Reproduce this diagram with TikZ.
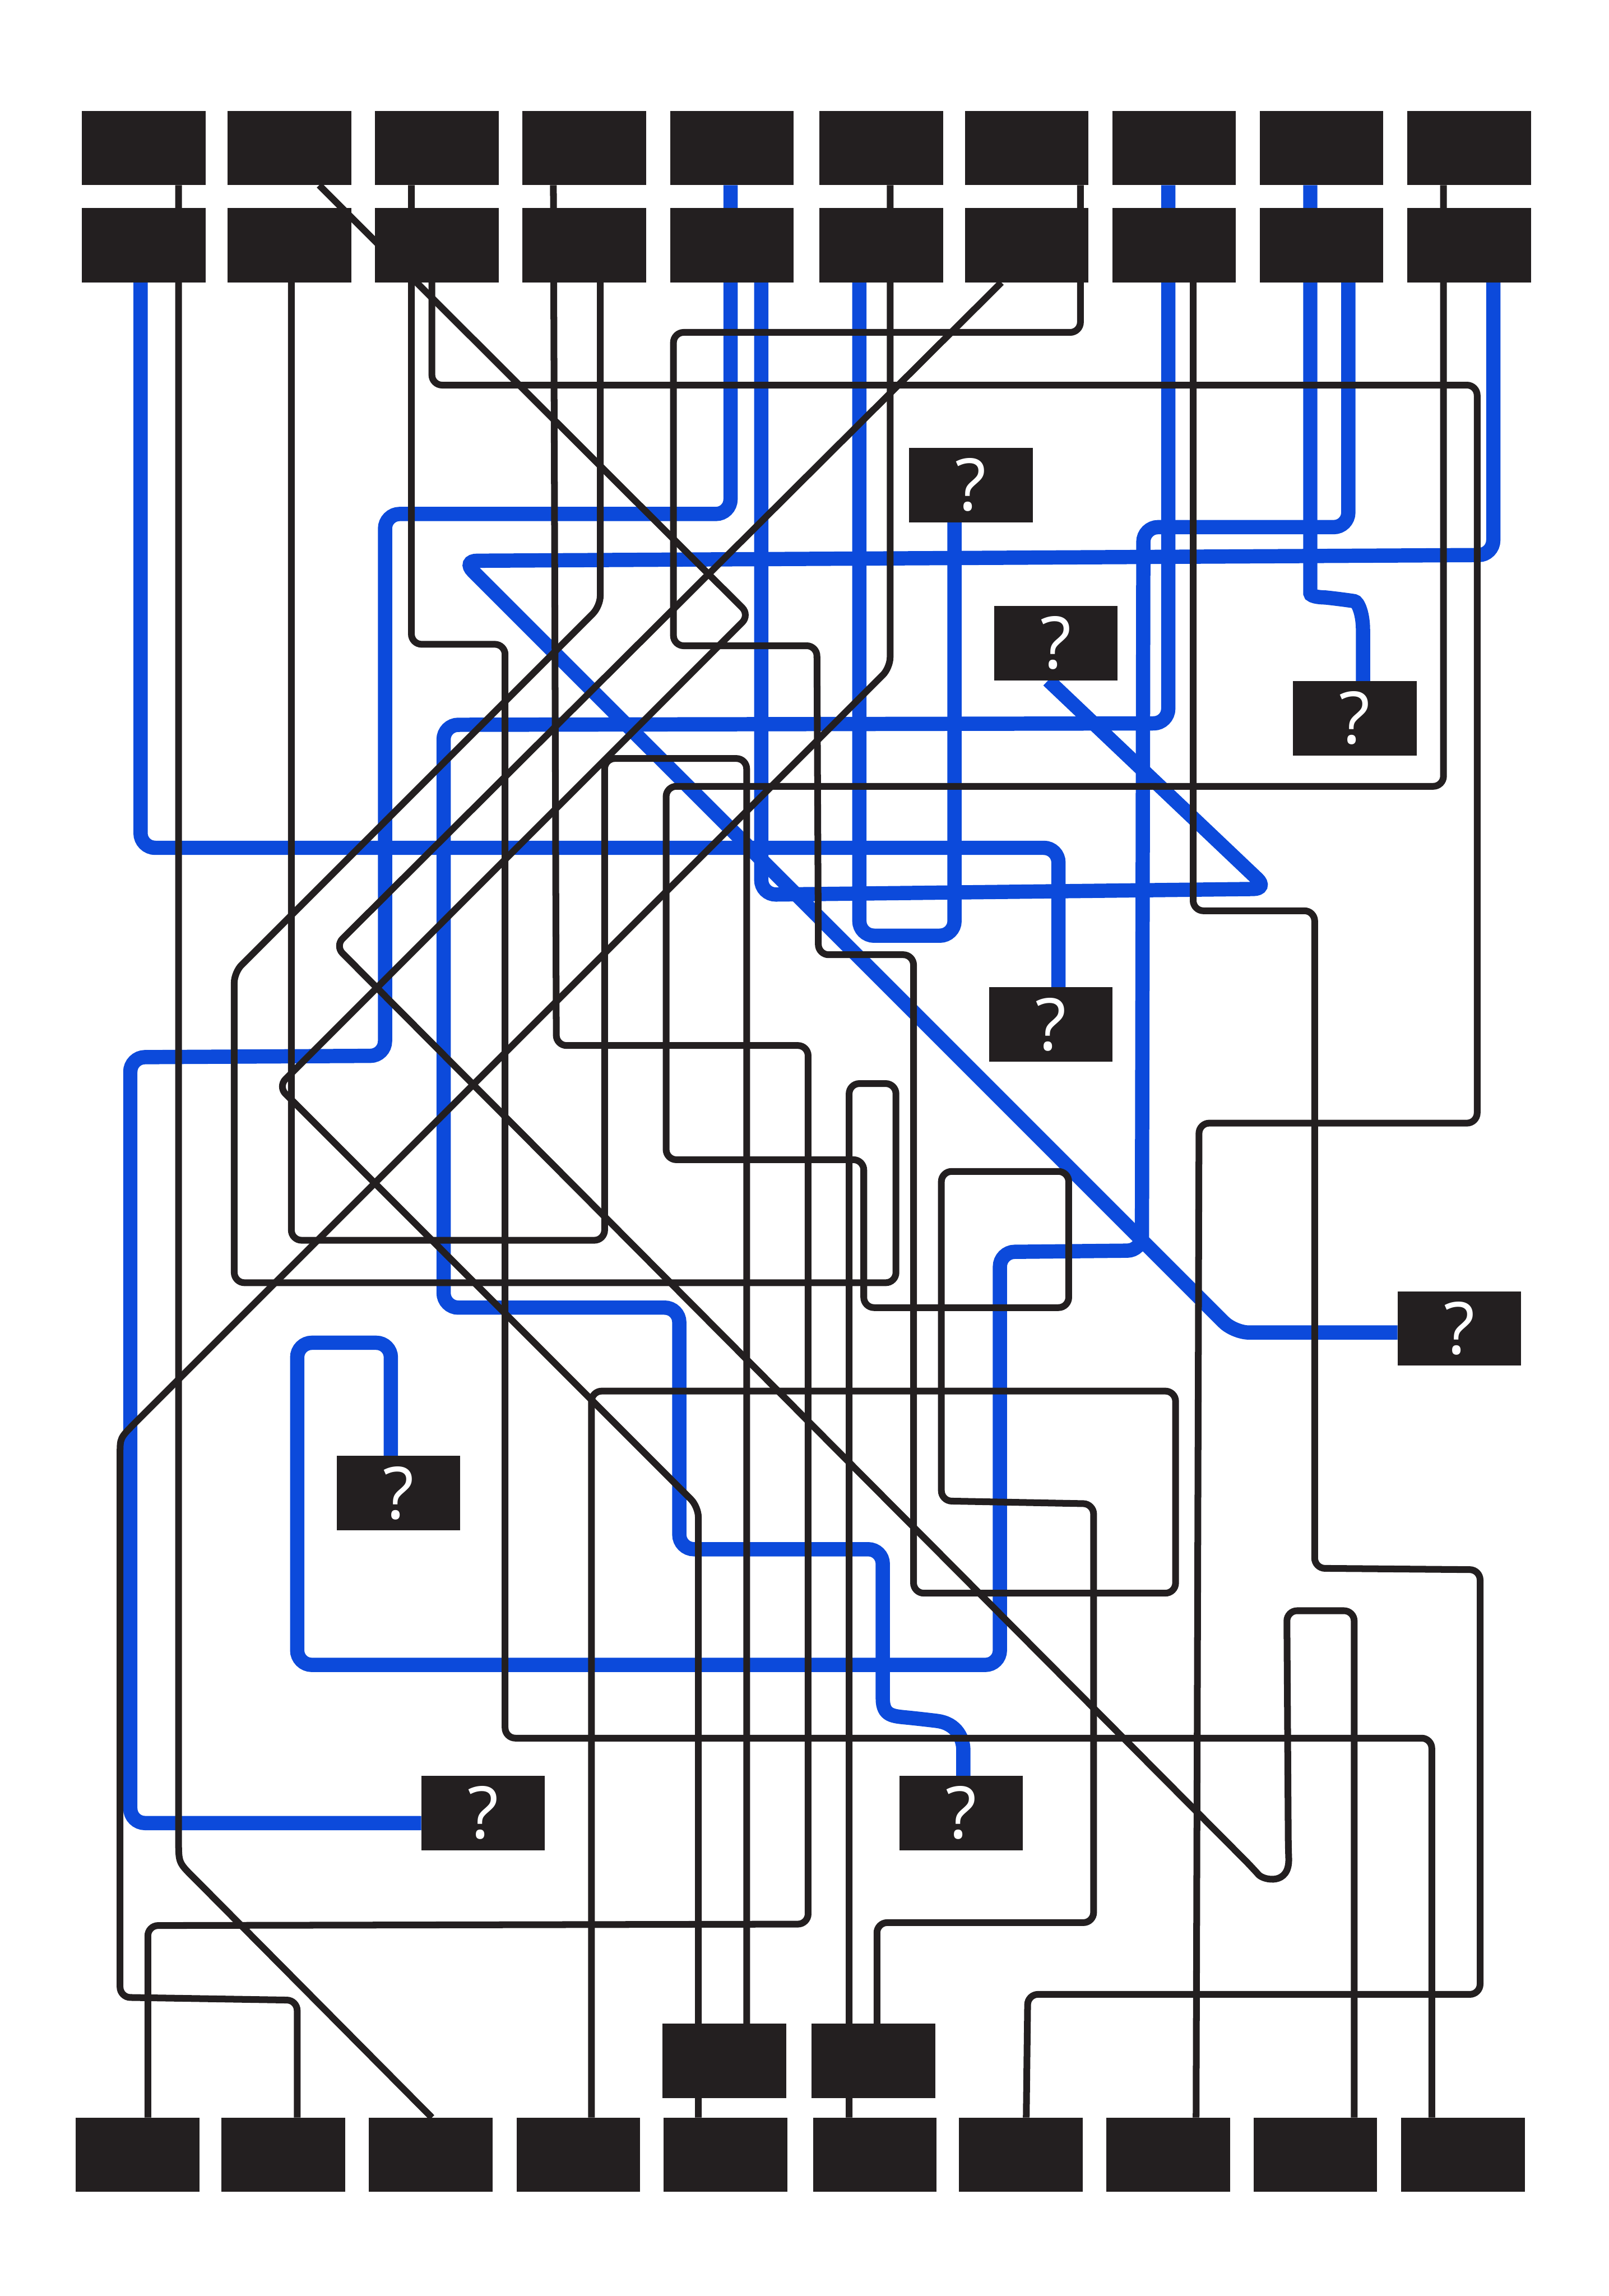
\documentclass[tikz,border=0pt]{standalone}
\usepackage{fontspec}
\newfontfamily\qfont{Open Sans}
\usetikzlibrary{backgrounds}
\definecolor{boxc}{HTML}{231F20}
\definecolor{bluec}{HTML}{0C4ADB}
\begin{document}
\begin{tikzpicture}[x=0.02cm,y=-0.02cm,
  box/.style={fill=boxc, draw=none, minimum width=16.9mm, minimum height=10.16mm, inner sep=0pt, outer sep=0pt},
  qbox/.style={box, text=white, font=\qfont\fontsize{28}{28}\selectfont},
  blk/.style={draw=boxc, line width=0.92mm, rounded corners=1.4mm},
  blu/.style={draw=bluec, line width=1.95mm, rounded corners=2mm}]
\useasboundingbox (0,0) rectangle (1099,1568);
% top rows
\foreach \i/\x in {1/98.2,2/197.8,3/298.5,4/399,5/500,6/602,7/701.3,8/802,9/902.7,10/1003.5}{
  \node[box] (t\i) at (\x,101.1) {};
  \node[box] (s\i) at (\x,167.5) {};
}
% bottom row
\foreach \i/\x in {1/94,2/193.5,3/294.3,4/395,5/495.5,6/597.6,7/697.3,8/798,9/898.5,10/999.3}{
  \node[box] (b\i) at (\x,1471.5) {};
}
\node[box] (m1) at (494.7,1407.5) {};
\node[box] (m2) at (596.6,1407.5) {};
% question boxes
\node[qbox] (q1) at (663.2,331.2) {?};
\node[qbox] (q2) at (721.2,439.2) {?};
\node[qbox] (q3) at (925.4,490.5) {?};
\node[qbox] (q4) at (717.8,699.7) {?};
\node[qbox] (q5) at (996.8,907.3) {?};
\node[qbox] (q6) at (272.2,1019.7) {?};
\node[qbox] (q7) at (330,1238.1) {?};
\node[qbox] (q8) at (656.5,1238.1) {?};

\begin{pgfonlayer}{background}
\fill[white] (0,0) rectangle (1099,1568);
% blue connectors
\draw[blu] (s1.south -| 96,0) -- (96,579) -- (723,579) -- (q4.north -| 723,0);
\draw[blu] (t5.south -| 499,0) -- (499,351) -- (263,351) -- (263,721) -- (89,722) -- (89,1245) -- (q7.west |- 0,1245);
\draw[blu] (s5.south -| 520,0) -- (520,611) -- (866,607) -- (q2.south -| 716,0);
\draw[blu] (s6.south -| 587,0) -- (587,639) -- (652,639) -- (q1.south -| 652,0);
\draw[blu] (t8.south -| 798,0) -- (798,494) -- (303,495) -- (303,893) -- (464,893) -- (464,1058) -- (603,1058) -- (603,1150) .. controls (603,1172) and (610,1172) .. (630,1174) .. controls (654,1177) and (658,1188) .. (658,1205) -- (q8.north -| 658,0);
\draw[blu] (t9.south -| 895,0) -- (895,395) .. controls (895,408) and (905,408) .. (915,409) .. controls (928,411) and (931,420) .. (931,440) -- (q3.north -| 931,0);
\draw[blu] (s9.south -| 921,0) -- (921,360) -- (781,360) -- (780,854) -- (683,855) -- (683,1137) -- (203,1137) -- (203,917) -- (267,917) -- (q6.north -| 267,0);
\draw[blu] (s10.south -| 1020,0) -- (1020,379) -- (316,383) -- (843,910) -- (q5.west |- 0,910);
% black connectors
\draw[blk] (t1.south -| 122,0) -- (122,1250) .. controls (122,1272) .. (137,1287) -- (b3.north -| 295,0);
\draw[blk] (t2.south -| 218,0) -- (512,420) -- (190,742) -- (477,1029) -- (b5.north -| 477,0);
\draw[blk] (s2.south -| 199,0) -- (199,847) -- (413,847) -- (413,518) -- (510,518) -- (m1.north -| 510,0);
\draw[blk] (t3.south -| 281,0) -- (281,440) -- (345,440) -- (345,1187) -- (978,1187) -- (b10.north -| 978,0);
\draw[blk] (s3.south -| 295,0) -- (295,263) -- (1009,263) -- (1009,767) -- (819,767) -- (b8.north -| 817,0);
\draw[blk] (t4.south -| 378,0) -- (380,714) -- (552,714) -- (552,1314) -- (101,1315) -- (b1.north -| 101,0);
\draw[blk] (s4.south -| 410,0) -- (410,414) -- (160,664) -- (160,876) -- (612,876) -- (612,740) -- (580,740) -- (b6.north -| 580,0);
\draw[blk] (t10.south -| 986,0) -- (986,537) -- (455,537) -- (455,792) -- (590,792) -- (590,893) -- (730,893) -- (730,800) -- (643,800) -- (643,1025) -- (747,1027) -- (747,1313) -- (599,1313) -- (m2.north -| 599,0);
\draw[blk] (t6.south -| 608,0) -- (608,456) -- (97,967) .. controls (82,982) .. (82,1000) -- (82,1364) -- (203,1366) -- (b2.north -| 203,0);
\draw[blk] (t7.south -| 738,0) -- (738,227) -- (460,227) -- (460,441) -- (558,441) -- (559,652) -- (624,652) -- (624,1088) -- (803,1088) -- (803,950) -- (404,950) -- (b4.north -| 404,0);
\draw[blk] (s8.south -| 815,0) -- (815,622) -- (898,622) -- (898,1071) -- (1011,1072) -- (1011,1362) -- (702,1362) -- (b7.north -| 701,0);
\draw[blk] (s7.south -| 684,0) -- (229,646) -- (855,1275) .. controls (863,1284) and (881,1288) .. (880,1262) -- (879,1100) -- (925,1100) -- (b9.north -| 925,0);
\end{pgfonlayer}
\end{tikzpicture}
\end{document}
